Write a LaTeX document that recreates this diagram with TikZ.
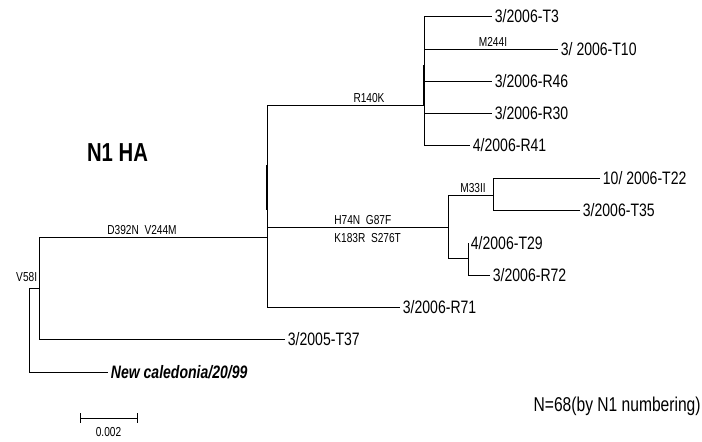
\documentclass[tikz,border=0pt]{standalone}
\usepackage{fontspec}
\setmainfont{Liberation Sans}[FakeStretch=0.78]

\begin{document}
\begin{tikzpicture}[x=1pt,y=-1pt,line width=0.8pt,
	leaf/.style={anchor=west,inner sep=2.5pt,font=\fontsize{18}{18}\selectfont,text height=13pt,text depth=0pt},
	mut/.style={inner sep=1pt,font=\fontsize{13}{13}\selectfont,text height=9.5pt,text depth=0pt}]
		\useasboundingbox (0,0) rectangle (702,442);
		
		% inner nodes of the tree
		\coordinate (root) at (29,288);
		\coordinate (n1) at (39,288);
		\coordinate (n2) at (267,237);
		\coordinate (n3) at (424,105);
		\coordinate (n4) at (448,227);
		\coordinate (n5) at (493,195);
		\coordinate (n6) at (468,258);
		
		\node[leaf] (t3) at (492,16) {3/2006-T3};
		\node[leaf] (t10) at (558,49) {3/ 2006-T10};
		\node[leaf] (r46) at (492,81) {3/2006-R46};
		\node[leaf] (r30) at (492,113) {3/2006-R30};
		\node[leaf] (r41) at (470,145) {4/2006-R41};
		\node[leaf] (t22) at (600,178) {10/ 2006-T22};
		\node[leaf] (t35) at (580,210) {3/2006-T35};
		\node[leaf] (t29) at (468,243) {4/2006-T29};
		\node[leaf] (r72) at (490,275) {3/2006-R72};
		\node[leaf] (r71) at (400,307) {3/2006-R71};
		\node[leaf] (t37) at (285,339) {3/2005-T37};
		\node[leaf,font=\fontsize{18}{18}\selectfont\bfseries\itshape] (nc) at (108,372) {New caledonia/20/99};
		
		\draw 
			(root) -- (n1)
			(root) |- (nc.west)
			(n1) |- (n2)
			(n1) |- (t37.west)
			(n2) |- (n3)
			(n2) |- (n4)
			(n2) |- (r71.west)
			(n3) |- (t3.west)
			(n3) |- (t10.west)
			(n3) |- (r46.west)
			(n3) |- (r30.west)
			(n3) |- (r41.west)
			(n4) |- (n5)
			(n4) |- (n6)
			(n5) |- (t22.west)
			(n5) |- (t35.west)
			(n6) |- (t29.west)
			(n6) |- (r72.west);
		\draw[line width=1.6pt] ([yshift=72pt]n2) -- ([yshift=27pt]n2);
		\draw[line width=1.6pt] ([yshift=40pt]n3) -- (n3);
		
		\begin{scope}[every node/.style={mut}]
			\node[anchor=south] (m1) at (369,104) {R140K};
			\node[anchor=south] (m2) at (493,48) {M244I};
			\node[anchor=south] (m3) at (142,235.5) {D392N\ \ V244M};
			\node[anchor=south west] (m4) at (333,226) {H74N\ \ G87F};
			\node[anchor=north west] (m5) at (333,232) {K183R\ \ S276T};
			\node[anchor=south] (m6) at (473,193.5) {M33II};
			\node[anchor=south east] (m7) at (38.5,283) {V58I};
		\end{scope}
		
		\node[font=\fontsize{26}{26}\selectfont\bfseries] (title) at (117.5,152.5) {N1 HA};
		\node[anchor=east,inner sep=0pt,font=\fontsize{20}{20}\selectfont] (note) at (701,406) {N=68(by N1 numbering)};
		
		% scale bar
		\coordinate (sbl) at (80,418);
		\coordinate (sbr) at (137,418);
		\draw ([yshift=5pt]sbl) -- ([yshift=-5pt]sbl) (sbl) -- (sbr) ([yshift=5pt]sbr) -- ([yshift=-5pt]sbr);
		\node[mut,anchor=north] (sblabel) at (108.5,426) {0.002};
	\end{tikzpicture}
\end{document}
